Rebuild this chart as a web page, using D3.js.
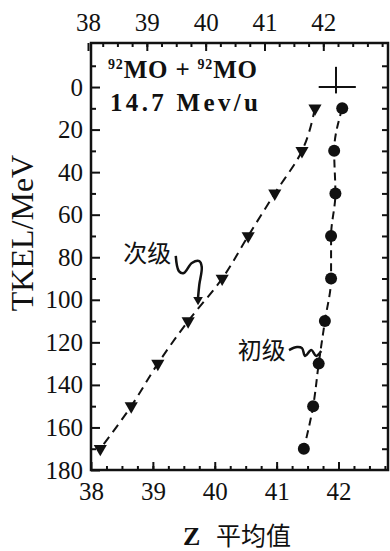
<!DOCTYPE html>
<html>
<head>
<meta charset="utf-8">
<script src="https://cdn.jsdelivr.net/npm/d3@7"></script>
<style>
  body { margin: 0; background: #fff; }
</style>
</head>
<body>
<div id="chart"></div>
<script>
// TKEL bins (MeV)
const tkel = [10, 30, 50, 70, 90, 110, 130, 150, 170];
// mean Z of secondary fragments (triangles)
const zSecondary = [41.62, 41.41, 40.97, 40.54, 40.12, 39.57, 39.08, 38.65, 38.15];
// mean Z of primary fragments (circles)
const zPrimary = [42.06, 41.93, 41.95, 41.88, 41.88, 41.78, 41.68, 41.59, 41.44];

const zTicks = [38, 39, 40, 41, 42];
const tkelTicks = [0, 20, 40, 60, 80, 100, 120, 140, 160, 180];

// error cross in the corner
const errCenter = [41.96, 0];
const errZ = [41.68, 42.28];
const errT = [-9.5, 3];

// wiggly pointers from the labels to the curves, [Z, TKEL]
const pointerSecondary = [[39.37, 79.4], [39.42, 86.5], [39.50, 87.4], [39.63, 82.7],
                          [39.75, 81.8], [39.79, 84.6], [39.75, 93.0], [39.73, 99.0]];
const pointerPrimary = [[41.20, 123.6], [41.33, 122.2], [41.41, 122.7], [41.46, 126.4],
                        [41.56, 123.6], [41.64, 126.4], [41.72, 124.1]];

const W = 390, H = 551;
const svg = d3.select("#chart").append("svg")
    .attr("width", W)
    .attr("height", H);

const x = d3.scaleLinear().domain([38, 42.8]).range([91, 388]);
const xTop = d3.scaleLinear().domain([38, 43.1]).range([88, 388]);
const y = d3.scaleLinear().domain([-20.7, 180]).range([43, 470]);

const ink = "#111";
const serif = "Liberation Serif, Times New Roman, serif";
const cjk = "Noto Sans CJK SC, sans-serif";

// apply the tick look on an axis group
const styleAxis = g => {
    g.select(".domain").remove();
    g.selectAll(".tick line").attr("stroke", ink).attr("stroke-width", 2);
    g.selectAll(".tick text")
        .attr("fill", ink)
        .style("font-family", serif)
        .style("font-size", "25px");
};

// frame
svg.append("rect")
    .attr("x", x(38)).attr("y", y(-20.7))
    .attr("width", x(42.8) - x(38)).attr("height", y(180) - y(-20.7))
    .attr("fill", "none").attr("stroke", ink).attr("stroke-width", 2.5);

// bottom axis
svg.append("g").attr("transform", "translate(0," + y(180) + ")")
    .call(d3.axisBottom(x).tickValues(d3.range(38.25, 42.8, 0.25)).tickSize(-4).tickFormat(""))
    .call(styleAxis);
svg.append("g").attr("transform", "translate(0," + y(180) + ")")
    .call(d3.axisBottom(x).tickValues(zTicks).tickSize(-8).tickPadding(12).tickFormat(d3.format("d")))
    .call(styleAxis);

// top axis
svg.append("g").attr("transform", "translate(0," + y(-20.7) + ")")
    .call(d3.axisTop(xTop).tickValues(d3.range(38.25, 43.05, 0.25)).tickSize(-4).tickFormat(""))
    .call(styleAxis);
svg.append("g").attr("transform", "translate(0," + y(-20.7) + ")")
    .call(d3.axisTop(xTop).tickValues(zTicks).tickSize(-8).tickPadding(12).tickFormat(d3.format("d")))
    .call(styleAxis);

// left axis
svg.append("g").attr("transform", "translate(" + x(38) + ",0)")
    .call(d3.axisLeft(y).tickValues(d3.range(-10, 180, 20)).tickSize(-5).tickFormat(""))
    .call(styleAxis);
svg.append("g").attr("transform", "translate(" + x(38) + ",0)")
    .call(d3.axisLeft(y).tickValues(tkelTicks).tickSize(-9).tickPadding(8))
    .call(styleAxis);

// right axis
svg.append("g").attr("transform", "translate(" + x(42.8) + ",0)")
    .call(d3.axisRight(y).tickValues(d3.range(-10, 180, 10)).tickSize(-6).tickFormat(""))
    .call(styleAxis);

// axis titles
svg.append("text")
    .attr("transform", "translate(22,233)rotate(-90)")
    .attr("text-anchor", "middle")
    .attr("dominant-baseline", "central")
    .style("font-family", serif)
    .style("font-size", "32px")
    .attr("fill", ink)
    .text("TKEL/MeV");

svg.append("text")
    .attr("x", 183).attr("y", 545)
    .style("font-family", serif)
    .style("font-weight", "bold")
    .style("font-size", "26px")
    .attr("fill", ink)
    .text("Z");
svg.append("text")
    .attr("x", 216).attr("y", 545)
    .style("font-family", cjk)
    .style("font-size", "25px")
    .attr("fill", ink)
    .text("平均值");

// reaction annotation
const l1 = svg.append("text")
    .attr("x", 108).attr("y", 78)
    .attr("textLength", 149).attr("lengthAdjust", "spacing")
    .style("font-family", serif)
    .style("font-weight", "bold")
    .style("font-size", "25px")
    .attr("fill", ink);
l1.append("tspan").attr("dy", -9).style("font-size", "14px").text("92");
l1.append("tspan").attr("dy", 9).text("MO + ");
l1.append("tspan").attr("dy", -9).style("font-size", "14px").text("92");
l1.append("tspan").attr("dy", 9).text("MO");

svg.append("text")
    .attr("x", 110).attr("y", 111)
    .attr("textLength", 148).attr("lengthAdjust", "spacing")
    .style("font-family", serif)
    .style("font-weight", "bold")
    .style("font-size", "25px")
    .attr("fill", ink)
    .text("14.7 Mev/u");

// error cross
svg.append("line")
    .attr("x1", x(errZ[0])).attr("x2", x(errZ[1]))
    .attr("y1", y(errCenter[1])).attr("y2", y(errCenter[1]))
    .attr("stroke", ink).attr("stroke-width", 2);
svg.append("line")
    .attr("x1", x(errCenter[0])).attr("x2", x(errCenter[0]))
    .attr("y1", y(errT[0])).attr("y2", y(errT[1]))
    .attr("stroke", ink).attr("stroke-width", 2);

// dashed curves
const line = d3.line()
    .x(d => x(d[0]))
    .y(d => y(d[1]))
    .curve(d3.curveMonotoneY);

const secData = tkel.map((t, i) => [zSecondary[i], t]);
const priData = tkel.map((t, i) => [zPrimary[i], t]);

svg.append("path")
    .datum(secData)
    .attr("d", line)
    .attr("fill", "none").attr("stroke", ink)
    .attr("stroke-width", 2).attr("stroke-dasharray", "9,6");

svg.append("path")
    .datum(priData)
    .attr("d", line)
    .attr("fill", "none").attr("stroke", ink)
    .attr("stroke-width", 2).attr("stroke-dasharray", "8,5");

// markers
svg.selectAll("path.tri")
    .data(secData)
    .enter()
    .append("path")
    .attr("class", "tri")
    .attr("d", d3.symbol().type(d3.symbolTriangle).size(75))
    .attr("transform", d => "translate(" + x(d[0]) + "," + y(d[1]) + ")rotate(180)")
    .attr("fill", ink);

svg.selectAll("circle.pri")
    .data(priData)
    .enter()
    .append("circle")
    .attr("class", "pri")
    .attr("cx", d => x(d[0]))
    .attr("cy", d => y(d[1]))
    .attr("r", 6)
    .attr("fill", ink);

// labels and pointers
const pointer = d3.line()
    .x(d => x(d[0]))
    .y(d => y(d[1]))
    .curve(d3.curveCatmullRom);

svg.append("path")
    .attr("d", pointer(pointerSecondary))
    .attr("fill", "none").attr("stroke", ink).attr("stroke-width", 2.5);
const tip = pointerSecondary[pointerSecondary.length - 1];
svg.append("path")
    .attr("d", d3.symbol().type(d3.symbolTriangle).size(40))
    .attr("transform", "translate(" + x(tip[0]) + "," + (y(tip[1]) + 2) + ")rotate(180)")
    .attr("fill", ink);

svg.append("path")
    .attr("d", pointer(pointerPrimary))
    .attr("fill", "none").attr("stroke", ink).attr("stroke-width", 2.5);

svg.append("text")
    .attr("x", x(38.91)).attr("y", y(77.5))
    .attr("text-anchor", "middle")
    .attr("dominant-baseline", "central")
    .style("font-family", cjk)
    .style("font-size", "24px")
    .attr("fill", ink)
    .text("次级");

svg.append("text")
    .attr("x", x(40.76)).attr("y", y(122.7))
    .attr("text-anchor", "middle")
    .attr("dominant-baseline", "central")
    .style("font-family", cjk)
    .style("font-size", "24px")
    .attr("fill", ink)
    .text("初级");
</script>
</body>
</html>
